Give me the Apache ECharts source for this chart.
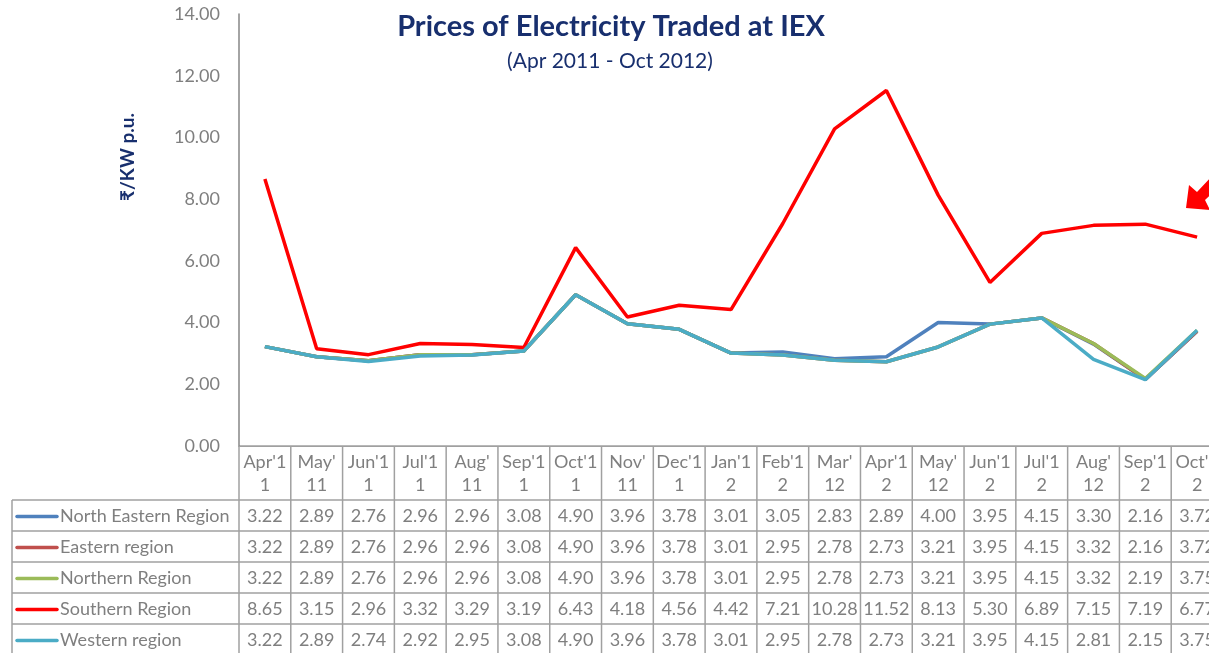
<!DOCTYPE html>
<html>
<head>
<meta charset="utf-8">
<script src="https://cdn.jsdelivr.net/npm/echarts@6/dist/echarts.min.js"></script>
<style>
  html, body { margin: 0; padding: 0; background: #fff; overflow: hidden; }
  /* wider than the window: the last column is cut off like in the source */
  #chart { width: 1240px; height: 653px; }
</style>
</head>
<body>
<div id="chart"></div>
<script>
// months
const categories = ["Apr'11", "May'11", "Jun'11", "Jul'11", "Aug'11", "Sep'11", "Oct'11", "Nov'11", "Dec'11",
  "Jan'12", "Feb'12", "Mar'12", "Apr'12", "May'12", "Jun'12", "Jul'12", "Aug'12", "Sep'12", "Oct'12"]
// header text as wrapped in the table
const tickLabels = ["Apr'1\n1", "May'\n11", "Jun'1\n1", "Jul'1\n1", "Aug'\n11", "Sep'1\n1", "Oct'1\n1", "Nov'\n11", "Dec'1\n1",
  "Jan'1\n2", "Feb'1\n2", "Mar'\n12", "Apr'1\n2", "May'\n12", "Jun'1\n2", "Jul'1\n2", "Aug'\n12", "Sep'1\n2", "Oct'1\n2"]
const yTicks = [0, 2, 4, 6, 8, 10, 12, 14]

const northEastern = [3.22, 2.89, 2.76, 2.96, 2.96, 3.08, 4.90, 3.96, 3.78, 3.01, 3.05, 2.83, 2.89, 4.00, 3.95, 4.15, 3.30, 2.16, 3.72]
const eastern = [3.22, 2.89, 2.76, 2.96, 2.96, 3.08, 4.90, 3.96, 3.78, 3.01, 2.95, 2.78, 2.73, 3.21, 3.95, 4.15, 3.32, 2.16, 3.72]
const northern = [3.22, 2.89, 2.76, 2.96, 2.96, 3.08, 4.90, 3.96, 3.78, 3.01, 2.95, 2.78, 2.73, 3.21, 3.95, 4.15, 3.32, 2.19, 3.75]
const southern = [8.65, 3.15, 2.96, 3.32, 3.29, 3.19, 6.43, 4.18, 4.56, 4.42, 7.21, 10.28, 11.52, 8.13, 5.30, 6.89, 7.15, 7.19, 6.77]
const western = [3.22, 2.89, 2.74, 2.92, 2.95, 3.08, 4.90, 3.96, 3.78, 3.01, 2.95, 2.78, 2.73, 3.21, 3.95, 4.15, 2.81, 2.15, 3.75]

const seriesList = [
  { name: 'North Eastern Region', data: northEastern, color: '#4f81bd' },
  { name: 'Eastern region', data: eastern, color: '#c0504d' },
  { name: 'Northern Region', data: northern, color: '#9bbb59' },
  { name: 'Southern Region', data: southern, color: '#ff0000' },
  { name: 'Western region', data: western, color: '#4bacc6' }
]

const font = 'Lato, "Open Sans", "Noto Sans", sans-serif'
const grey = '#7f7f7f'
const border = '#a0a0a0'
const navy = '#182f6e'

const chart = echarts.init(document.getElementById('chart'))

chart.setOption({
  animation: false,
  grid: { left: 239, top: 14, width: 984, height: 432 },
  xAxis: {
    type: 'category',
    data: categories,
    boundaryGap: true,
    axisLine: { lineStyle: { color: border, width: 1 } },
    axisTick: { show: false },
    axisLabel: {
      interval: 0,
      margin: 5,
      color: grey,
      fontFamily: font,
      fontSize: 18,
      lineHeight: 23,
      formatter: (v, i) => tickLabels[i]
    }
  },
  yAxis: {
    type: 'value',
    min: yTicks[0],
    max: yTicks[yTicks.length - 1],
    interval: 2,
    axisLine: { show: true, lineStyle: { color: '#868686', width: 1.5 } },
    axisTick: { show: false },
    splitLine: { show: false },
    axisLabel: {
      margin: 19,
      color: grey,
      fontFamily: font,
      fontSize: 18,
      formatter: v => v.toFixed(2)
    }
  },
  series: seriesList.map(s => ({
    name: s.name,
    type: 'line',
    data: s.data,
    symbol: 'none',
    lineStyle: { color: s.color, width: 3.5 },
    itemStyle: { color: s.color }
  }))
})

// table under the plot, laid out from the category axis
const buildTable = () => {
  const x0 = chart.convertToPixel({ xAxisIndex: 0 }, 0)
  const x1 = chart.convertToPixel({ xAxisIndex: 0 }, 1)
  const band = x1 - x0
  const left = x0 - band / 2
  const right = left + band * categories.length
  const headTop = 446
  const rowTop = 500
  const rowH = 31
  const bottom = rowTop + rowH * seriesList.length
  const boxLeft = 12
  const els = []

  // horizontal rules
  els.push({ type: 'line', shape: { x1: left, y1: headTop, x2: right, y2: headTop }, style: { stroke: border, lineWidth: 1.5 } })
  for (let r = 0; r <= seriesList.length; r++) {
    const y = rowTop + r * rowH
    els.push({ type: 'line', shape: { x1: boxLeft, y1: y, x2: right, y2: y }, style: { stroke: border, lineWidth: 1.5 } })
  }
  // vertical rules
  els.push({ type: 'line', shape: { x1: boxLeft, y1: rowTop, x2: boxLeft, y2: bottom }, style: { stroke: border, lineWidth: 1.5 } })
  for (let c = 0; c <= categories.length; c++) {
    const x = left + c * band
    els.push({ type: 'line', shape: { x1: x, y1: headTop, x2: x, y2: bottom }, style: { stroke: border, lineWidth: 1.5 } })
  }

  seriesList.forEach((s, r) => {
    const cy = rowTop + r * rowH + rowH / 2 + 1
    // legend key + name
    els.push({ type: 'line', shape: { x1: 17, y1: cy, x2: 57, y2: cy }, style: { stroke: s.color, lineWidth: 3.5, lineCap: 'round' } })
    els.push({ type: 'text', x: 60, y: cy, style: { text: s.name, fill: grey, font: '18px ' + font, textAlign: 'left', textVerticalAlign: 'middle' } })
    s.data.forEach((v, i) => {
      els.push({
        type: 'text',
        x: chart.convertToPixel({ xAxisIndex: 0 }, i),
        y: cy,
        style: { text: v.toFixed(2), fill: grey, font: '18px ' + font, textAlign: 'center', textVerticalAlign: 'middle' }
      })
    })
  })

  // titles
  els.push({ type: 'text', x: 611, y: 27, style: { text: 'Prices of Electricity Traded at IEX', fill: navy, font: 'bold 29px ' + font, textAlign: 'center', textVerticalAlign: 'middle' } })
  els.push({ type: 'text', x: 610, y: 61, style: { text: '(Apr 2011 - Oct 2012)', fill: navy, font: '21px ' + font, textAlign: 'center', textVerticalAlign: 'middle' } })
  // y axis name
  els.push({ type: 'text', x: 128, y: 157, rotation: Math.PI / 2, style: { text: '₹/KW p.u.', fill: navy, font: 'bold 19px ' + font, textAlign: 'center', textVerticalAlign: 'middle' } })

  // red arrow pointing at the southern line
  els.push({
    type: 'polygon',
    shape: { points: [[1186, 208], [1189, 185], [1197, 192], [1213, 175], [1222, 184], [1205, 200], [1210, 210]] },
    style: { fill: '#ff0000' }
  })

  chart.setOption({ graphic: els })
}
buildTable()
</script>
</body>
</html>
